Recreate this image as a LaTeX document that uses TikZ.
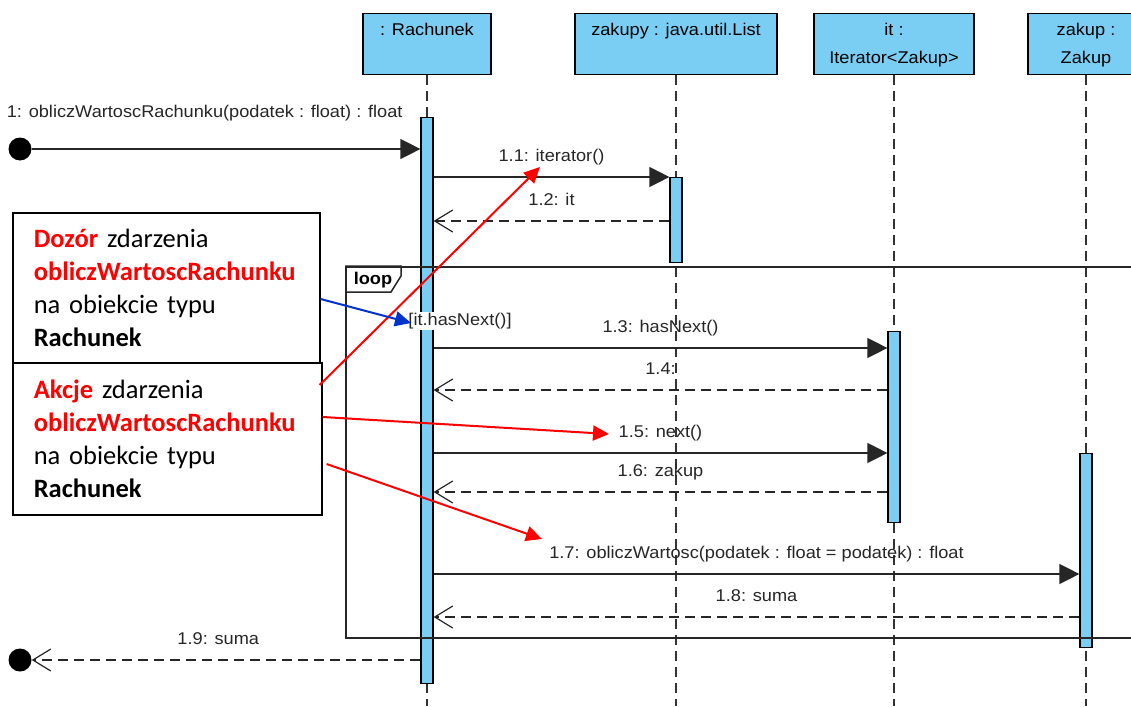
\documentclass[tikz,border=0pt]{standalone}
\usepackage{fontspec}
\newfontfamily\umlfont{Liberation Sans}[FakeStretch=1.07]
\newfontfamily\notefont{Carlito}
\usepackage{tikz}
\usetikzlibrary{arrows.meta,positioning}
\definecolor{umlblue}{RGB}{122,206,244}
\definecolor{hintred}{RGB}{255,0,0}
\definecolor{hintblue}{RGB}{0,51,204}
\tikzset{
  head/.style={draw, fill=umlblue, line width=1.3pt, minimum height=61pt, anchor=north, inner sep=0pt},
  headtxt/.style={anchor=north, inner sep=0pt, align=center, font=\umlfont\fontsize{17}{28}\selectfont},
  lifeline/.style={line width=1.2pt, dash pattern=on 10pt off 6pt, black!80},
  act/.style={draw, fill=umlblue, line width=1.2pt, minimum width=12pt, inner sep=0pt, anchor=north},
  call/.style={line width=1.3pt, black!85, -{Triangle[length=20pt, width=20pt]}},
  reply/.style={line width=1.3pt, black!85, dash pattern=on 10pt off 6pt, -{Straight Barb[length=18pt, width=22pt, line width=1.2pt]}},
  msgtxt/.style={midway, above=11pt, inner sep=0pt, text height=12pt, text depth=4pt, font=\umlfont\fontsize{17}{20}\selectfont, text=black!85},
  dot/.style={circle, fill=black, minimum size=23pt, inner sep=0pt},
  frame/.style={line width=1.5pt, black!85},
  note/.style={draw, line width=1.6pt, anchor=north west, align=left, inner xsep=21pt, inner ysep=0pt, font=\notefont\fontsize{26.5}{33}\selectfont},
  hint/.style={hintred, line width=2pt, -{Triangle[length=16pt, width=15pt]}},
}

\begin{document}
\begin{tikzpicture}[x=1pt, y=-1pt]
  \fill[white] (0,0) rectangle (1131,706);
  \clip (0,0) rectangle (1131,706);
  \coordinate (bottom) at (0,706);

  \node[head, minimum width=128pt] (rach) at (427,13) {};
  \node[head, minimum width=202pt] (zakupy) at (676,13) {};
  \node[head, minimum width=160pt] (it) at (894,13) {};
  \node[head, minimum width=116pt] (zakup) at (1086,13) {};
  \node[headtxt] at ([yshift=-10pt]rach.north) {: Rachunek};
  \node[headtxt] at ([yshift=-10pt]zakupy.north) {zakupy : java.util.List};
  \node[headtxt] at ([yshift=-10pt]it.north) {it :\\Iterator<Zakup>};
  \node[headtxt] at ([yshift=-10pt]zakup.north) {zakup :\\Zakup};

  \draw[lifeline] (rach.south) -- (rach.south |- bottom);
  \draw[lifeline] (zakupy.south) -- (zakupy.south |- bottom);
  \draw[lifeline] (it.south) -- (it.south |- bottom);
  \draw[lifeline] (zakup.south) -- (zakup.south |- bottom);

  \node[act, minimum height=566pt] (actR) at (427,117) {};
  \node[act, minimum height=85pt] (actZ) at (676,177) {};
  \node[act, minimum height=191pt] (actI) at (894,331) {};
  \node[act, minimum height=194pt] (actK) at (1086,453) {};

  \node[draw, frame, minimum width=820pt, minimum height=371pt, anchor=north west] (loopbox) at (345,266) {};
  \draw[frame] (loopbox.north west) -- ++(56,0) -- ++(0,10) -- ++(-10,16) -- ++(-46,0);
  \node[inner sep=0pt, font=\umlfont\bfseries\fontsize{17}{20}\selectfont] (looptxt) at (373,280) {loop};
  \node[fill=white, inner sep=1pt, font=\umlfont\fontsize{17}{20}\selectfont, text=black!85] (guard) at (460,321) {[it.hasNext()]};

  \coordinate (m11) at (0,177);
  \coordinate (m12) at (0,221);
  \coordinate (m13) at (0,348);
  \coordinate (m14) at (0,390);
  \coordinate (m15) at (0,453);
  \coordinate (m16) at (0,492);
  \coordinate (m17) at (0,574);
  \coordinate (m18) at (0,617);

  \node[dot] (start) at (20,149) {};
  \node[dot] (stop) at (20,660) {};

  \draw[call] (start) -- (actR.west |- start) node[msgtxt, pos=0.445, above=27pt] {1: obliczWartoscRachunku(podatek : float) : float};
  \draw[call] (actR.east |- m11) -- (actZ.west |- m11) node[msgtxt] {1.1: iterator()};
  \draw[reply] (actZ.west |- m12) -- (actR.east |- m12) node[msgtxt] {1.2: it};
  \draw[call] (actR.east |- m13) -- (actI.west |- m13) node[msgtxt] {1.3: hasNext()};
  \draw[reply] (actI.west |- m14) -- (actR.east |- m14) node[msgtxt] {1.4:};
  \draw[call] (actR.east |- m15) -- (actI.west |- m15) node[msgtxt] {1.5: next()};
  \draw[reply] (actI.west |- m16) -- (actR.east |- m16) node[msgtxt] {1.6: zakup};
  \draw[call] (actR.east |- m17) -- (actK.west |- m17) node[msgtxt] {1.7: obliczWartosc(podatek : float = podatek) : float};
  \draw[reply] (actK.west |- m18) -- (actR.east |- m18) node[msgtxt] {1.8: suma};
  \draw[reply] (actR.west |- stop) -- (stop) node[msgtxt, pos=0.52] {1.9: suma};

  \node[note, text width=265pt, minimum height=150pt] (dozor) at (12,212) {{\color{hintred}\bfseries Dozór} zdarzenia\\{\color{hintred}\bfseries obliczWartoscRachunku}\\na obiekcie typu\\{\bfseries Rachunek}};
  \node[note, text width=267pt, minimum height=152pt] (akcje) at (12,362) {{\color{hintred}\bfseries Akcje} zdarzenia\\{\color{hintred}\bfseries obliczWartoscRachunku}\\na obiekcie typu\\{\bfseries Rachunek}};

  \coordinate (tipIter) at (540,167);
  \coordinate (tipNext) at (609,434);
  \coordinate (tipCall) at (542,539);
  \coordinate (tipGuard) at (411,323);
  \draw[hint] ([xshift=-3pt, yshift=-23pt]akcje.north east) -- (tipIter);
  \draw[hint] ([yshift=-55pt]akcje.north east) -- (tipNext);
  \draw[hint] ([xshift=4pt, yshift=-102pt]akcje.north east) -- (tipCall);
  \draw[hint, hintblue] ([yshift=-87pt]dozor.north east) -- (tipGuard);
\end{tikzpicture}
\end{document}
